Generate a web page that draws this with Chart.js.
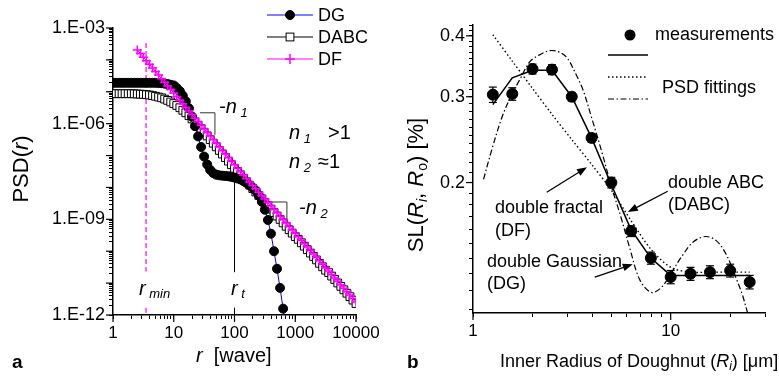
<!DOCTYPE html>
<html>
<head>
<meta charset="utf-8">
<script src="https://cdn.jsdelivr.net/npm/chart.js@4.4.1/dist/chart.umd.min.js"></script>
<style>
  html, body { margin: 0; padding: 0; background: #fff; }
  #wrap { position: relative; width: 779px; height: 379px; overflow: hidden; }
  canvas { position: absolute; top: 0; }
  #cA { left: 0; }
  #cB { left: 390px; }
</style>
</head>
<body>
<div id="wrap">
  <canvas id="cA" width="390" height="379"></canvas>
  <canvas id="cB" width="389" height="379"></canvas>
</div>
<script>
// ---- panel a : PSD(r) ----
const rWave = [1, 1.12, 1.26, 1.41, 1.58, 1.78, 2, 2.24, 2.51, 2.82, 3.16, 3.55, 3.98, 4.47, 5.01, 5.62, 6.31, 7.08, 7.94, 8.91,
  10, 11.2, 12.6, 14.1, 15.8, 17.8, 20, 22.4, 25.1, 28.2, 31.6, 35.5, 39.8, 44.7, 50.1, 56.2, 63.1, 70.8, 79.4, 89.1,
  100, 112, 126, 141, 158, 178, 200, 224, 251, 282, 316, 355, 398, 447, 501, 562, 631, 708, 794, 891,
  1000, 1120, 1260, 1410, 1580, 1780, 2000, 2240, 2510, 2820, 3160, 3550, 3980, 4470, 5010, 5620, 6310, 7080, 7940, 8910, 10000];

const psdDG = [1.91e-5, 1.91e-5, 1.91e-5, 1.91e-5, 1.91e-5, 1.91e-5, 1.91e-5, 1.91e-5, 1.91e-5, 1.91e-5,
  1.91e-5, 1.91e-5, 1.91e-5, 1.91e-5, 1.91e-5, 1.88e-5, 1.86e-5, 1.80e-5, 1.74e-5, 1.66e-5,
  1.58e-5, 1.32e-5, 1.05e-5, 7.59e-6, 5.01e-6, 3.02e-6, 1.66e-6, 8.32e-7, 3.98e-7, 1.86e-7,
  9.33e-8, 5.25e-8, 3.55e-8, 2.82e-8, 2.51e-8, 2.40e-8, 2.34e-8, 2.29e-8, 2.24e-8, 2.14e-8,
  2.04e-8, 1.91e-8, 1.78e-8, 1.58e-8, 1.38e-8, 1.17e-8, 9.77e-9, 7.94e-9, 5.62e-9, 3.55e-9,
  2.00e-9, 9.55e-10, 3.55e-10, 1.0e-10, 2.82e-11, 7.08e-12, 1.58e-12, 3.16e-13];

const psdDABC = [8.71e-6, 8.71e-6, 8.71e-6, 8.71e-6, 8.71e-6, 8.71e-6, 8.71e-6, 8.61e-6, 8.51e-6, 8.41e-6,
  8.32e-6, 8.13e-6, 7.94e-6, 7.59e-6, 7.24e-6, 6.84e-6, 6.46e-6, 5.89e-6, 5.37e-6, 4.79e-6,
  4.27e-6, 3.72e-6, 3.16e-6, 2.63e-6, 2.19e-6, 1.78e-6, 1.41e-6, 1.12e-6, 8.91e-7, 6.92e-7,
  5.37e-7, 4.12e-7, 3.16e-7, 2.44e-7, 1.88e-7, 1.45e-7, 1.12e-7, 8.66e-8, 6.68e-8, 5.16e-8,
  3.98e-8, 3.18e-8, 2.48e-8, 1.94e-8, 1.51e-8, 1.18e-8, 9.23e-9, 7.20e-9, 5.62e-9, 4.39e-9,
  3.43e-9, 2.68e-9, 2.09e-9, 1.63e-9, 1.27e-9, 9.94e-10, 7.76e-10, 6.06e-10, 4.73e-10, 3.69e-10,
  2.88e-10, 2.36e-10, 1.84e-10, 1.44e-10, 1.12e-10, 8.76e-11, 6.84e-11, 5.34e-11, 4.17e-11, 3.25e-11,
  2.54e-11, 2.13e-11, 1.66e-11, 1.30e-11, 1.01e-11, 7.90e-12, 6.17e-12, 4.81e-12, 3.76e-12, 2.93e-12, 2.29e-12];

const psdDF = [null, null, null, null, null, null, null, null, 2.04e-4, 1.58e-4,
  1.22e-4, 9.39e-5, 7.24e-5, 5.59e-5, 4.32e-5, 3.33e-5, 2.57e-5, 1.98e-5, 1.53e-5, 1.18e-5,
  9.12e-6, 7.04e-6, 5.43e-6, 4.19e-6, 3.24e-6, 2.50e-6, 1.93e-6, 1.49e-6, 1.15e-6, 8.86e-7,
  6.84e-7, 5.28e-7, 4.07e-7, 3.14e-7, 2.43e-7, 1.87e-7, 1.45e-7, 1.12e-7, 8.61e-8, 6.64e-8,
  5.13e-8, 4.00e-8, 3.13e-8, 2.44e-8, 1.91e-8, 1.49e-8, 1.16e-8, 9.07e-9, 7.08e-9, 5.53e-9,
  4.32e-9, 3.37e-9, 2.63e-9, 2.05e-9, 1.60e-9, 1.25e-9, 9.77e-10, 7.63e-10, 5.96e-10, 4.65e-10,
  3.63e-10, 2.83e-10, 2.21e-10, 1.73e-10, 1.35e-10, 1.05e-10, 8.22e-11, 6.42e-11, 5.01e-11, 3.91e-11,
  3.05e-11, 2.39e-11, 1.86e-11, 1.45e-11, 1.14e-11, 8.86e-12, 6.92e-12, 5.40e-12, 4.22e-12, 3.29e-12, 2.57e-12];

const xLabelValA = [1, 10, 100, 1000, 10000];
const xLabelsA = ['1', '10', '100', '1000', '10000'];
const yLabelValA = [1e-12, 1e-9, 1e-6, 1e-3];
const yLabelsA = ['1.E-12', '1.E-09', '1.E-06', '1.E-03'];
const yDecadesA = [1e-12, 1e-11, 1e-10, 1e-9, 1e-8, 1e-7, 1e-6, 1e-5, 1e-4, 1e-3];

const rMin = 3.5, rT = 100;
const rMinSegs = [[3.4e-4, 2.3e-11], [1.7e-12, 1e-12]];
const rTSegs = [[2.3e-8, 2.2e-11], [1.7e-12, 1e-12]];
const bracket1 = { r: [27, 47.6], psd: [2.2e-6, 4.5e-7] };
const bracket2 = { r: [414, 728], psd: [3.5e-9, 7.8e-10] };

// ---- panel b : SL(Ri, Ro) ----
const riMeas = [1.26, 1.58, 2, 2.51, 3.16, 3.98, 5.01, 6.31, 7.94, 10, 12.6, 15.8, 20, 25.1];
const slMeas = [0.303, 0.304, 0.342, 0.341, 0.300, 0.247, 0.200, 0.159, 0.140, 0.128, 0.130, 0.131, 0.132, 0.125];
const slErr = [0.011, 0.009, 0.008, 0.008, 0.006, 0.005, 0.005, 0.004, 0.004, 0.004, 0.004, 0.004, 0.004, 0.004];
const slDABC = [0.289, 0.328, 0.340, 0.340, 0.300, 0.247, 0.198, 0.160, 0.140, 0.129, 0.129, 0.129, 0.129, 0.129];
const slDF = [0.402, 0.355, 0.312, 0.276, 0.245, 0.218, 0.193, 0.167, 0.146, 0.134, 0.131, 0.131, 0.131, 0.131];
const riDG = [1.13, 1.25, 1.4, 1.55, 1.73, 1.94, 2.18, 2.45, 2.75, 3.0, 3.3, 3.6, 4.0, 4.5, 5.0, 5.6, 6.2, 7.0, 8.0, 9.0,
  10, 11.5, 13, 15, 17, 19, 21, 23, 24.5];
const slDG = [0.203, 0.235, 0.272, 0.300, 0.326, 0.354, 0.366, 0.373, 0.370, 0.360, 0.335, 0.310, 0.270, 0.230, 0.197, 0.170, 0.147, 0.126, 0.119, 0.122,
  0.130, 0.142, 0.151, 0.155, 0.152, 0.143, 0.130, 0.118, 0.108];

const xLabelValB = [1, 10];
const yLabelValB = [0.2, 0.3, 0.4];
const yLabelsB = ['0.2', '0.3', '0.4'];

const arrowDF = [[2.36, 0.191], [3.77, 0.215]];
const arrowDABC = [[9.66, 0.192], [6.07, 0.174]];
const arrowDG = [[4.13, 0.128], [6.43, 0.136]];

const FONT = '"Liberation Sans", Arial, Helvetica, sans-serif';
const N = s => s + 'px ' + FONT;
const I = s => 'italic ' + s + 'px ' + FONT;
const B = s => 'bold ' + s + 'px ' + FONT;

const pts = (xs, ys) => xs.map((x, i) => ({ x, y: ys[i] })).filter(p => p.y != null);

function logTicks(decades) {
  const out = [];
  decades.forEach((d, i) => {
    out.push(d);
    if (i < decades.length - 1) for (let m = 2; m <= 9; m++) out.push(m * d);
  });
  return out;
}

// text made of pieces with different fonts, [text, font, dy]
function rich(ctx, x, y, parts, align) {
  let w = 0;
  parts.forEach(p => { ctx.font = p[1]; w += ctx.measureText(p[0]).width; });
  let cx = align === 'center' ? x - w / 2 : x;
  parts.forEach(p => {
    ctx.font = p[1];
    ctx.fillText(p[0], cx, y + (p[2] || 0));
    cx += ctx.measureText(p[0]).width;
  });
}

function seg(ctx, x1, y1, x2, y2) {
  ctx.beginPath(); ctx.moveTo(x1, y1); ctx.lineTo(x2, y2); ctx.stroke();
}

function arrow(ctx, x1, y1, x2, y2) {
  const a = Math.atan2(y2 - y1, x2 - x1), L = 10, W = 3.8;
  seg(ctx, x1, y1, x2 - Math.cos(a) * L * 0.8, y2 - Math.sin(a) * L * 0.8);
  ctx.beginPath();
  ctx.moveTo(x2, y2);
  ctx.lineTo(x2 - L * Math.cos(a) + W * Math.sin(a), y2 - L * Math.sin(a) - W * Math.cos(a));
  ctx.lineTo(x2 - L * Math.cos(a) - W * Math.sin(a), y2 - L * Math.sin(a) + W * Math.cos(a));
  ctx.closePath(); ctx.fill();
}

function majorTicks(chart, id, values, len) {
  const s = chart.scales[id], ctx = chart.ctx;
  ctx.save(); ctx.strokeStyle = '#000'; ctx.lineWidth = 1.2;
  values.forEach(v => {
    const p = s.getPixelForValue(v);
    if (s.isHorizontal()) seg(ctx, p, s.top, p, s.top + len);
    else seg(ctx, s.right, p, s.right - len, p);
  });
  ctx.restore();
}

function axisOpts(min, max, tickVals, labelVals, labels, fit, size) {
  return {
    type: 'logarithmic', min, max,
    afterBuildTicks: s => { s.ticks = tickVals.map(v => ({ value: v })); },
    afterFit: fit,
    ticks: {
      autoSkip: false, maxRotation: 0, minRotation: 0, padding: 4, color: '#000',
      font: { family: FONT, size },
      callback: v => { const i = labelVals.indexOf(v); return i < 0 ? '' : labels[i]; }
    },
    grid: { drawOnChartArea: false, drawTicks: true, tickLength: 4, tickColor: '#000', tickWidth: 1 },
    border: { display: true, color: '#000', width: 1.5 }
  };
}

// ---------- chart a ----------
const decoA = {
  id: 'decoA',
  beforeDatasetsDraw(chart) {
    const ctx = chart.ctx, xs = chart.scales.x, ys = chart.scales.y;
    ctx.save();
    ctx.strokeStyle = '#ff00ff'; ctx.lineWidth = 1.2; ctx.setLineDash([5, 3]);
    rMinSegs.forEach(s => seg(ctx, xs.getPixelForValue(rMin), ys.getPixelForValue(s[0]), xs.getPixelForValue(rMin), ys.getPixelForValue(s[1])));
    ctx.setLineDash([]); ctx.strokeStyle = '#000'; ctx.lineWidth = 1;
    rTSegs.forEach(s => seg(ctx, xs.getPixelForValue(rT), ys.getPixelForValue(s[0]), xs.getPixelForValue(rT), ys.getPixelForValue(s[1])));
    ctx.strokeStyle = '#555'; ctx.lineWidth = 1.2;
    [bracket1, bracket2].forEach(b => {
      const xa = xs.getPixelForValue(b.r[0]), xb = xs.getPixelForValue(b.r[1]);
      const ya = ys.getPixelForValue(b.psd[0]), yb = ys.getPixelForValue(b.psd[1]);
      seg(ctx, xa, ya, xb, ya); seg(ctx, xb, ya, xb, yb);
    });
    ctx.restore();
  },
  afterDraw(chart) {
    const ctx = chart.ctx;
    majorTicks(chart, 'x', xLabelValA, 7);
    majorTicks(chart, 'y', yDecadesA, 7);
    ctx.save();
    ctx.fillStyle = '#000'; ctx.textBaseline = 'middle'; ctx.textAlign = 'left';
    // legend
    const ds = chart.data.datasets;
    const rows = [[ds[1], 15], [ds[2], 37], [ds[0], 59]];
    rows.forEach(([d, y]) => {
      ctx.strokeStyle = d.borderColor; ctx.lineWidth = 1.2;
      seg(ctx, 267, y, 313, y);
      ctx.lineWidth = d.pointBorderWidth; ctx.strokeStyle = d.pointBorderColor; ctx.fillStyle = d.pointBackgroundColor;
      if (d.pointStyle === 'circle') { ctx.beginPath(); ctx.arc(290, y, d.pointRadius, 0, Math.PI * 2); ctx.fill(); ctx.stroke(); }
      else if (d.pointStyle === 'rect') { const h = d.pointRadius * Math.SQRT1_2; ctx.fillRect(290 - h, y - h, 2 * h, 2 * h); ctx.strokeRect(290 - h, y - h, 2 * h, 2 * h); }
      else { seg(ctx, 290 - 5, y, 290 + 5, y); seg(ctx, 290, y - 5, 290, y + 5); }
      ctx.fillStyle = '#000'; ctx.font = N(18);
      ctx.fillText(d.label, 318, y + 1);
    });
    // annotations
    rich(ctx, 219, 107, [['-n', I(20)], [' 1', I(13), 6]]);
    rich(ctx, 289, 133, [['n', I(20)], [' 1', I(13), 6]]);
    rich(ctx, 328, 133, [['>1', N(20)]]);
    rich(ctx, 289, 162, [['n', I(20)], [' 2', I(13), 6]]);
    rich(ctx, 318, 162, [['\u22481', N(20)]]);
    rich(ctx, 299, 208, [['-n', I(20)], [' 2', I(13), 6]]);
    rich(ctx, 139, 289, [['r', I(20)], [' min', I(13), 5]]);
    rich(ctx, 231, 289, [['r', I(20)], [' t', I(13), 5]]);
    // axis titles
    rich(ctx, 196, 356, [['r', I(20)], ['  [wave]', N(20)]]);
    ctx.font = B(19); ctx.fillText('a', 12, 363);
    ctx.translate(22, 169); ctx.rotate(-Math.PI / 2);
    rich(ctx, 0, 0, [['PSD(', N(22)], ['r', I(22)], [')', N(22)]], 'center');
    ctx.restore();
  }
};

new Chart(document.getElementById('cA'), {
  type: 'scatter',
  data: {
    datasets: [
      { label: 'DF', data: pts(rWave, psdDF), showLine: true, borderColor: '#ff00ff', borderWidth: 1,
        pointStyle: 'cross', pointRadius: 4.5, pointBorderColor: '#ff00ff', pointBackgroundColor: '#ff00ff', pointBorderWidth: 1.5, order: 0 },
      { label: 'DG', data: pts(rWave, psdDG), showLine: true, borderColor: '#0000ff', borderWidth: 1,
        pointStyle: 'circle', pointRadius: 4.5, pointBorderColor: '#000', pointBackgroundColor: '#000', pointBorderWidth: 1, order: 1 },
      { label: 'DABC', data: pts(rWave, psdDABC), showLine: true, borderColor: '#000', borderWidth: 1,
        pointStyle: 'rect', pointRadius: 5.5, pointBorderColor: '#000', pointBackgroundColor: '#fff', pointBorderWidth: 1, order: 2 }
    ]
  },
  options: {
    responsive: false, animation: false, devicePixelRatio: 1,
    layout: { padding: { left: 0, right: 34, top: 28, bottom: 30 } },
    plugins: { legend: { display: false }, tooltip: { enabled: false } },
    scales: {
      x: axisOpts(1, 10000, logTicks([1, 10, 100, 1000, 10000]), xLabelValA, xLabelsA, s => { s.height = 34; }, 17),
      y: axisOpts(1e-12, 1e-3, logTicks(yDecadesA), yLabelValA, yLabelsA, s => { s.width = 113; }, 18)
    }
  },
  plugins: [decoA]
});

// ---------- chart b ----------
const xTicksB = [];
for (let m = 1; m <= 9; m++) xTicksB.push(m);
xTicksB.push(10, 20, 30);
const yTicksB = [];
for (let i = 11; i <= 42; i++) yTicksB.push(i / 100);

const decoB = {
  id: 'decoB',
  beforeDatasetDraw(chart, args) {
    if (args.index !== 0) return;
    const ctx = chart.ctx, ys = chart.scales.y;
    ctx.save(); ctx.strokeStyle = '#000'; ctx.lineWidth = 1.2;
    args.meta.data.forEach((p, i) => {
      const yt = ys.getPixelForValue(slMeas[i] + slErr[i]), yb = ys.getPixelForValue(slMeas[i] - slErr[i]);
      seg(ctx, p.x, yt, p.x, yb);
      seg(ctx, p.x - 4, yt, p.x + 4, yt);
      seg(ctx, p.x - 4, yb, p.x + 4, yb);
    });
    ctx.restore();
  },
  afterDraw(chart) {
    const ctx = chart.ctx, xs = chart.scales.x, ys = chart.scales.y;
    majorTicks(chart, 'x', xLabelValB, 7);
    majorTicks(chart, 'y', yLabelValB, 7);
    ctx.save();
    ctx.fillStyle = '#000'; ctx.strokeStyle = '#000'; ctx.textBaseline = 'middle'; ctx.textAlign = 'left';
    // legend
    const ds = chart.data.datasets;
    ctx.beginPath(); ctx.arc(240, 35, 5.5, 0, Math.PI * 2); ctx.fill();
    [[ds[1], 55], [ds[2], 77], [ds[3], 99]].forEach(([d, y]) => {
      ctx.lineWidth = d.borderWidth; ctx.setLineDash(d.borderDash || []);
      seg(ctx, 218, y, 258, y);
    });
    ctx.setLineDash([]);
    ctx.font = N(18);
    ctx.fillText('measurements', 265, 35);
    ctx.fillText('PSD fittings', 272, 88);
    // annotations
    ctx.fillText('double ABC', 278, 183);
    ctx.fillText('(DABC)', 278, 205);
    ctx.fillText('double fractal', 105, 208);
    ctx.fillText('(DF)', 105, 231);
    ctx.fillText('double Gaussian', 97, 262);
    ctx.fillText('(DG)', 97, 284);
    ctx.lineWidth = 1.3;
    [arrowDF, arrowDABC, arrowDG].forEach(a => arrow(ctx,
      xs.getPixelForValue(a[0][0]), ys.getPixelForValue(a[0][1]),
      xs.getPixelForValue(a[1][0]), ys.getPixelForValue(a[1][1])));
    // axis titles
    rich(ctx, 110, 362, [['Inner Radius of Doughnut (', N(18)], ['R', I(18)], ['i', I(12), 5], [') [\u03bcm]', N(18)]]);
    ctx.font = B(19); ctx.fillText('b', 17, 363);
    ctx.translate(27, 185); ctx.rotate(-Math.PI / 2);
    rich(ctx, 0, 0, [['SL(', N(22)], ['R', I(22)], ['i', I(14), 6], [', ', N(22)], ['R', I(22)], ['o', N(14), 6], [') [%]', N(22)]], 'center');
    ctx.restore();
  }
};

new Chart(document.getElementById('cB'), {
  type: 'scatter',
  data: {
    datasets: [
      { label: 'measurements', data: pts(riMeas, slMeas), showLine: false,
        pointStyle: 'circle', pointRadius: 5.5, pointBackgroundColor: '#000', pointBorderColor: '#000', order: 0 },
      { label: 'DABC', data: pts(riMeas, slDABC), showLine: true, borderColor: '#000', borderWidth: 1.5, pointRadius: 0, order: 1 },
      { label: 'DF', data: pts(riMeas, slDF), showLine: true, borderColor: '#000', borderWidth: 1.4, borderDash: [1.5, 2.5],
        tension: 0.3, pointRadius: 0, order: 2 },
      { label: 'DG', data: pts(riDG, slDG), showLine: true, borderColor: '#000', borderWidth: 1.2, borderDash: [6, 2.5, 1.5, 2.5],
        tension: 0.35, pointRadius: 0, order: 3 }
    ]
  },
  options: {
    responsive: false, animation: false, devicePixelRatio: 1,
    layout: { padding: { left: 0, right: 14, top: 25, bottom: 32 } },
    plugins: { legend: { display: false }, tooltip: { enabled: false } },
    scales: {
      x: axisOpts(1, 30, xTicksB, xLabelValB, ['1', '10'], s => { s.height = 34; }, 17),
      y: axisOpts(0.108, 0.421, yTicksB, yLabelValB, yLabelsB, s => { s.width = 83; }, 18)
    }
  },
  plugins: [decoB]
});
</script>
</body>
</html>
